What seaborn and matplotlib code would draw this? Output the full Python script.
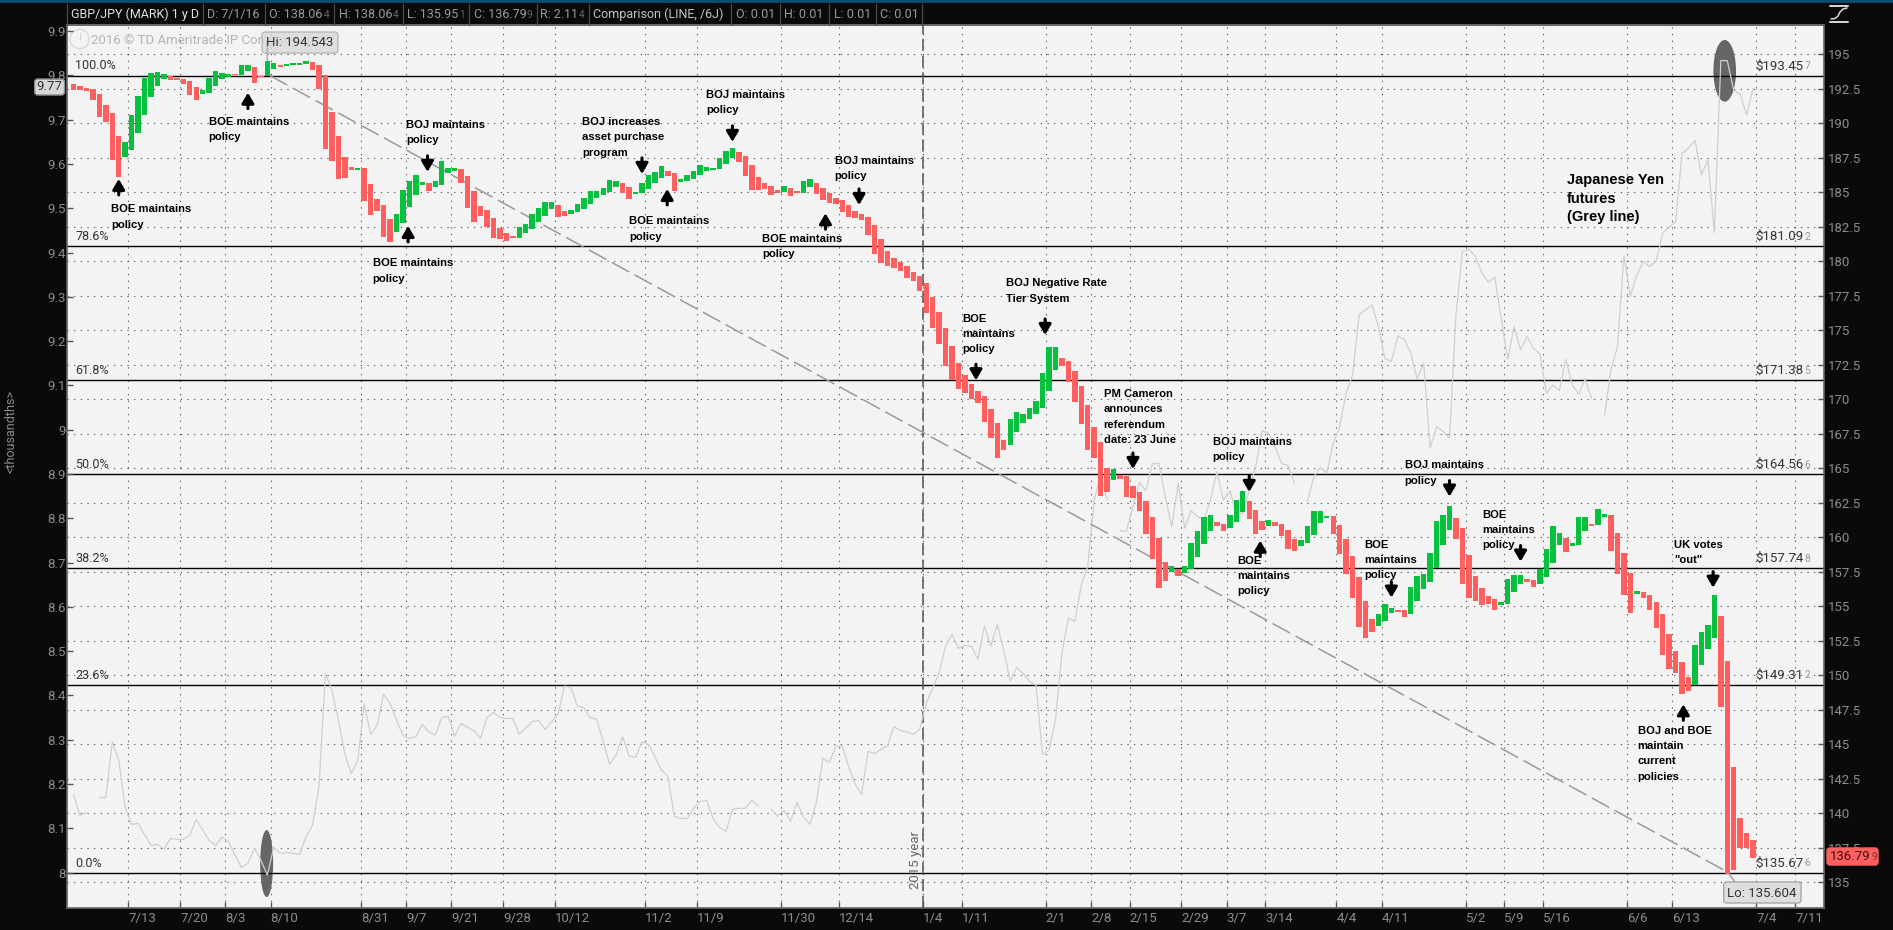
import numpy as np
import pandas as pd
import matplotlib
matplotlib.use("Agg")
import matplotlib.pyplot as plt
import seaborn as sns
from matplotlib.lines import Line2D
from matplotlib.patches import Ellipse, FancyBboxPatch, Rectangle
from matplotlib.transforms import IdentityTransform

W, H = 1893, 930
BG = "#0a0a0a"
PANEL = "#f3f3f3"
AXIS_TXT = "#8c8c8c"
RED = "#ff5f5f"
GREEN = "#05c13e"

# top / bottom of each daily bar, GBP/JPY
bar_tops = [
    192.83, 192.71, 192.59, 192.49, 192.13, 191.33, 190.75, 189.08, 188.67, 190.61,
    191.98, 193.29, 193.65, 193.72, 193.58, 193.43, 193.29, 193.22, 193.07, 192.64,
    192.42, 193.29, 193.80, 193.65, 193.58, 193.58, 194.23, 194.23, 194.08, 193.43,
    194.54, 194.37, 194.21, 194.30, 194.37, 194.40, 194.50, 194.45, 194.23, 193.48,
    190.82, 189.08, 187.56, 186.84, 186.74, 186.76, 185.61, 184.52, 184.08, 183.07,
    183.43, 185.17, 185.82, 186.26, 185.75, 185.68, 185.82, 187.27, 186.76, 186.76,
    186.69, 186.19, 185.10, 184.01, 183.72, 183.14, 182.42, 182.06, 181.84, 182.49,
    182.71, 183.43, 183.87, 184.30, 184.30, 184.08, 183.65, 183.72, 184.16, 184.59,
    185.10, 185.10, 185.32, 185.90, 185.82, 185.68, 185.39, 185.03, 185.68, 186.26,
    186.48, 186.91, 186.55, 186.40, 185.97, 186.26, 186.55, 186.98, 186.84, 186.76,
    187.49, 188.00, 188.22, 187.93, 187.64, 186.98, 186.11, 185.68, 185.46, 185.17,
    185.46, 185.32, 185.10, 185.82, 185.97, 185.68, 185.32, 184.95, 184.59, 184.45,
    184.08, 183.65, 183.43, 183.22, 182.64, 181.62, 180.75, 180.24, 179.95, 179.66,
    179.23, 178.94, 178.43, 177.42, 176.33, 175.17, 173.87, 172.63, 171.77, 171.11,
    170.61, 170.24, 169.30, 168.29, 167.05, 168.58, 169.08, 168.94, 169.37, 169.88,
    171.91, 173.79, 173.79, 173.00, 172.78, 172.06, 170.97, 169.59, 168.00, 166.89,
    165.03, 164.95, 164.52, 164.45, 163.72, 163.29, 162.63, 161.48, 159.95, 158.21,
    157.92, 157.71, 157.92, 159.59, 160.46, 161.48, 161.62, 161.11, 160.97, 161.62,
    162.71, 163.36, 162.63, 161.98, 161.19, 161.26, 161.11, 160.97, 160.53, 159.88,
    159.81, 160.82, 161.91, 161.91, 161.55, 161.55, 160.90, 159.88, 158.65, 157.13,
    155.39, 154.08, 154.45, 155.17, 154.88, 154.74, 154.74, 156.40, 157.20, 157.34,
    158.87, 161.19, 161.62, 162.27, 161.40, 160.68, 158.72, 157.20, 156.33, 155.75,
    155.53, 155.32, 156.98, 157.27, 157.27, 156.98, 156.91, 157.71, 159.16, 160.82,
    160.32, 159.95, 159.59, 161.48, 161.48, 160.97, 162.05, 161.69, 161.62, 160.32,
    158.87, 157.42, 156.11, 156.04, 155.82, 155.32, 154.45, 152.99, 151.76, 150.96,
    149.87, 152.19, 153.14, 153.64, 155.82, 154.30, 151.03, 143.35, 139.66, 138.57, 138.06,
]
bar_bottoms = [
    192.42, 192.42, 192.35, 191.69, 190.46, 190.10, 187.35, 186.11, 187.56, 188.07,
    189.30, 190.61, 191.91, 192.71, 193.22, 193.14, 193.14, 192.85, 192.06, 191.69,
    192.13, 192.20, 192.71, 193.22, 193.36, 193.48, 193.48, 193.80, 192.93, 193.36,
    193.43, 193.94, 194.06, 194.16, 194.23, 194.25, 194.28, 193.87, 192.49, 188.14,
    187.27, 185.97, 186.04, 186.62, 186.62, 184.37, 183.36, 183.65, 181.77, 181.40,
    182.13, 182.78, 183.94, 184.81, 185.53, 185.10, 185.39, 185.53, 186.40, 186.55,
    185.68, 183.87, 182.85, 183.29, 182.49, 181.69, 181.62, 181.48, 181.69, 181.69,
    182.06, 182.35, 182.85, 183.29, 183.79, 183.22, 183.29, 183.43, 183.58, 183.79,
    184.16, 184.59, 184.81, 185.03, 185.39, 184.95, 184.52, 184.88, 184.95, 185.24,
    185.68, 186.04, 186.19, 185.10, 185.75, 185.82, 185.97, 186.26, 186.55, 186.62,
    186.69, 187.06, 187.49, 187.20, 186.19, 185.17, 185.17, 185.24, 184.81, 184.95,
    185.03, 184.74, 184.95, 184.95, 185.39, 184.88, 184.45, 184.23, 184.16, 183.58,
    183.22, 183.14, 183.00, 181.91, 180.53, 179.88, 179.66, 179.52, 179.30, 178.79,
    178.58, 177.85, 176.26, 175.17, 174.01, 172.42, 171.40, 170.75, 170.46, 170.03,
    169.74, 168.36, 167.20, 165.75, 166.33, 166.69, 167.63, 168.29, 168.58, 168.94,
    169.37, 170.61, 172.13, 172.42, 171.26, 169.81, 168.21, 166.33, 165.75, 163.00,
    163.29, 164.16, 164.23, 162.92, 162.85, 161.91, 160.24, 158.43, 156.33, 156.84,
    157.49, 157.20, 157.42, 157.71, 158.58, 159.52, 160.46, 160.82, 160.46, 160.68,
    161.11, 161.84, 161.33, 160.24, 160.53, 160.82, 160.82, 160.10, 159.16, 159.01,
    159.37, 159.59, 160.17, 161.04, 161.40, 160.24, 158.79, 157.34, 155.61, 153.53,
    152.71, 153.14, 153.58, 153.94, 154.52, 154.59, 154.23, 154.45, 155.39, 156.26,
    156.76, 157.78, 159.45, 160.53, 159.88, 156.62, 155.61, 155.39, 155.10, 155.17,
    154.74, 155.10, 155.17, 156.04, 156.62, 156.76, 156.40, 156.62, 157.13, 158.14,
    159.45, 158.94, 159.37, 159.45, 160.46, 160.82, 160.90, 161.48, 159.01, 157.34,
    155.82, 154.52, 155.90, 155.61, 154.74, 153.43, 151.47, 150.45, 150.16, 148.64,
    148.86, 149.30, 150.74, 151.90, 152.70, 147.70, 135.60, 135.89, 137.48, 137.48, 136.79,
]
bar_dirs = (
    "RRRRRRRRGG" "GGGGGRRRRR" "GGGGGRGGRR" "GGRGGGGRRR" "RRRRGRRRRR"
    "GGGGGRGGGG" "RRRRRRRRRG" "GGGGGRRGGG" "GGGGGRRGGG" "GGRRGGGGGG"
    "GGGRRRRRRR" "GRRGGRRRRR" "RRRRRRRRRR" "RRRRRRRRRR" "RRRRRGGGGG"
    "GGGRRRRRRR" "RGRRRRRRRR" "GRGGGGGRRG" "GGRRRGRRRR" "GGGGGRRRRR"
    "RRGGGRRGGG" "GGGGRRRRRR" "RGGGGRRGGG" "GRGGGRGGRR" "RRGRRRRRRR"
    "RGGGGRRRRRR"
)

# Japanese Yen futures comparison line, None where the feed has a gap
yen_line = [
    141.32, 139.85, 140.07, None, 141.15, 141.15, 145.16, 143.86, 140.43, 139.20,
    139.27, 138.43, 137.68, 137.75, 137.41, 138.18, 138.11, 138.11, 138.40, 139.56,
    138.79, 138.04, 137.68, 138.28, 137.94, 136.98, 136.08, 136.37, 137.46, 136.61,
    135.53, 137.53, 137.10, 137.17, 137.10, 137.02, 138.30, 139.15, 141.93, 150.16,
    148.93, 146.76, 144.30, 142.89, 143.81, 147.92, 145.70, 146.40, 148.64, 147.97,
    146.76, 145.65, 145.43, 145.55, 146.44, 145.91, 145.65, 146.95, 147.02, 145.60,
    146.52, 146.23, 145.99, 145.43, 146.95, 147.31, 146.95, 146.88, 146.88, 145.72,
    146.15, 146.64, 146.73, 146.08, 146.64, 147.17, 149.22, 149.13, 147.77, 147.65,
    146.93, 146.81, 145.19, 143.55, 144.22, 145.55, 144.15, 144.05, 145.19, 145.00,
    144.10, 143.14, 142.70, 139.80, 139.63, 139.63, 140.36, 140.84, 140.94, 139.63,
    138.98, 138.69, 140.29, 140.36, 140.36, 140.94, 140.55, None, 140.29, 139.80,
    140.21, 139.42, 140.79, 139.75, 139.20, 140.79, 143.98, 143.69, 144.87, 144.87,
    143.38, 142.12, 141.37, 144.49, 144.34, 144.63, 144.90, 146.28, 145.99, 145.89,
    145.72, 146.11, 147.99, 149.05, 150.21, 152.12, 152.97, 151.95, 152.17, 152.10,
    151.16, 153.55, 152.12, 153.69, 151.83, 149.56, 150.58, 150.14, 149.56, 149.27,
    144.27, 144.58, 146.76, 151.59, 154.15, 153.91, 156.55, 157.88, 162.71, 164.52,
    162.71, None, 160.46, 160.46, 162.22, 163.96, 163.38, 165.32, 165.36, 162.95,
    160.77, 163.91, 160.65, 161.93, 161.50, 161.26, 162.71, 164.76, 162.71, 163.38,
    161.74, 161.74, 163.43, 165.12, 167.73, 167.54, 166.57, 165.36, 165.20, 163.91,
    None, 162.59, 164.40, 165.07, 164.64, 166.81, 168.02, 170.44, 171.77, 176.11,
    176.48, 176.84, 175.27, 172.97, 172.73, 174.59, 174.35, 173.34, 171.50, 172.61,
    166.45, 168.02, 167.66, 167.18, 176.11, 180.70, 180.87, 180.34, 179.18, 178.48,
    178.84, 175.87, 172.90, 175.27, 173.58, 174.54, 173.70, 173.29, 170.44, 171.04,
    170.63, 172.90, 171.04, 170.36, 171.48, 170.07, None, 168.87, 172.13, 173.82,
    180.39, 177.49, 179.01, 179.98, 179.62, 180.03, 182.03, 182.47, 182.88, 187.83,
    188.19, 188.75, 186.26, 187.35, 182.08, 194.54, 194.54, 192.37, 192.13, 190.61,
    192.54,
]

date_labels = ["7/13", "7/20", "8/3", "8/10", "8/31", "9/7", "9/21", "9/28", "10/12", "11/2",
               "11/9", "11/30", "12/14", "1/4", "1/11", "2/1", "2/8", "2/15", "2/29", "3/7",
               "3/14", "4/4", "4/11", "5/2", "5/9", "5/16", "6/6", "6/13", "7/4", "7/11"]
date_bars = [8.5, 16.5, 23.5, 30.5, 44.5, 51.5, 58.5, 66.5, 74.5, 88.5,
             96.5, 109.5, 118.5, 131.5, 137.5, 150.5, 157.5, 163.5, 171.5, 178.5,
             184.5, 195.5, 202.5, 215.5, 221.5, 227.5, 240.5, 247.5, 260.5, 266.5]

price_ticks = [195 - 2.5 * k for k in range(25)]
thousandth_ticks = [9.9, 9.8, 9.7, 9.6, 9.5, 9.4, 9.3, 9.2, 9.1, 9, 8.9, 8.8, 8.7, 8.6, 8.5,
                    8.4, 8.3, 8.2, 8.1, 8]

fib_pct = ["100.0%", "78.6%", "61.8%", "50.0%", "38.2%", "23.6%", "0.0%"]
fib_prices = [193.457, 181.092, 171.385, 164.566, 157.748, 149.312, 135.676]

# arrows: bar number, tip price, direction
arrow_bars = [7, 27, 51.8, 54.8, 88, 91.9, 102, 116.4, 121.6, 150.4, 139.7, 164, 182, 183.7,
              204, 213, 224, 253.8, 249.2]
arrow_tips = [185.97, 192.22, 182.56, 186.48, 186.33, 185.24, 188.65, 183.48, 184.08, 174.66,
              171.38, 164.95, 163.29, 159.76, 155.63, 162.95, 158.24, 156.35, 147.90]
arrow_dirs = "UUUDDUDUDDDDDUDDDDU"

# note text, left edge px, first line centre px
notes = [
    ("BOE maintains\npolicy", 111.4, 210),
    ("BOE maintains\npolicy", 208.6, 122.3),
    ("BOJ maintains\npolicy", 406, 125.3),
    ("BOE maintains\npolicy", 372.7, 264),
    ("BOJ increases\nasset purchase\nprogram", 582.4, 122.3),
    ("BOJ maintains\npolicy", 706.5, 95),
    ("BOE maintains\npolicy", 629.4, 222),
    ("BOE maintains\npolicy", 762.4, 239),
    ("BOJ maintains\npolicy", 834.7, 161),
    ("BOJ Negative Rate\nTier System", 1005.7, 284),
    ("BOE\nmaintains\npolicy", 962.4, 319),
    ("PM Cameron\nannounces\nreferendum\ndate: 23 June", 1103.7, 394.3),
    ("BOJ maintains\npolicy", 1212.7, 442.3),
    ("BOE\nmaintains\npolicy", 1237.6, 561),
    ("BOJ maintains\npolicy", 1404.7, 466),
    ("BOE\nmaintains\npolicy", 1364.4, 545),
    ("BOE\nmaintains\npolicy", 1482.5, 515),
    ("UK votes\n\"out\"", 1674, 545),
    ("BOJ and BOE\nmaintain\ncurrent\npolicies", 1637.7, 731),
]

# header cells: left px, text, small last digit, colour
header_cells = [
    (71.4, "GBP/JPY (MARK) 1 y D", "", "#e0e0e0"),
    (207.3, "D: 7/1/16", "", "#9a9a9a"),
    (269.4, "O: 138.06", "4", "#9a9a9a"),
    (338.8, "H: 138.06", "4", "#9a9a9a"),
    (407.3, "L: 135.95", "1", "#9a9a9a"),
    (473.5, "C: 136.79", "9", "#9a9a9a"),
    (540.4, "R: 2.11", "4", "#9a9a9a"),
    (593, "Comparison (LINE, /6J)", "", "#c4c4c4"),
    (735.5, "O: 0.01", "", "#9a9a9a"),
    (784.5, "H: 0.01", "", "#9a9a9a"),
    (833.5, "L: 0.01", "", "#9a9a9a"),
    (879.6, "C: 0.01", "", "#9a9a9a"),
]
header_seps = [67.3, 203.3, 265.3, 334.3, 403.3, 469.4, 537, 589.4, 731.4, 780.4, 829.4, 875.5, 922.4]

sns.set_theme(style="white")
plt.rcParams["font.family"] = ["Roboto", "DejaVu Sans"]

fig = plt.figure(figsize=(W / 100, H / 100), dpi=100, facecolor=BG)
ax = fig.add_axes([67.3 / W, 1 - 908 / H, (1824 - 67.3) / W, (908 - 25) / H], facecolor=PANEL)


def label(px, py, s, **kw):
    kw.setdefault("clip_on", False)
    return ax.text(px / W, 1 - py / H, s, transform=fig.transFigure, **kw)


def tail_digit(txt, digit, color="#999999", size=7.5):
    ax.annotate(digit, xy=(1, 0), xycoords=txt, xytext=(0.5, 1), textcoords="offset points",
                ha="left", va="bottom", fontsize=size, color=color, zorder=txt.get_zorder())


def px_box(x0, y0, x1, y1, fc, ec, zorder=8, alpha=1.0):
    box = FancyBboxPatch((x0 + 3, H - y1 + 3), x1 - x0 - 6, y1 - y0 - 6,
                         boxstyle="round,pad=3,rounding_size=3", fc=fc, ec=ec, lw=1,
                         transform=IdentityTransform(), zorder=zorder, alpha=alpha, clip_on=False)
    ax.add_patch(box)


df = pd.DataFrame({"bar": np.arange(len(bar_tops)), "top": bar_tops, "bottom": bar_bottoms,
                   "dir": list(bar_dirs)})
df["size"] = df["top"] - df["bottom"]
for d, col in (("R", RED), ("G", GREEN)):
    part = df[df["dir"] == d]
    sns.barplot(data=part, x="bar", y="size", bottom=part["bottom"].to_numpy(), native_scale=True,
                color=col, saturation=1, width=0.84, errorbar=None, linewidth=0, zorder=5, ax=ax)

# comparison line with its gaps kept open
line_df = pd.DataFrame({"bar": np.arange(len(yen_line)), "price": pd.to_numeric(pd.Series(yen_line))})
line_df["seg"] = line_df["price"].isna().cumsum()
line_df = line_df.dropna()
sns.lineplot(data=line_df, x="bar", y="price", units="seg", estimator=None, color="#cfcfcf",
             lw=0.9, zorder=3, ax=ax)

ax.add_patch(Ellipse((29.9, 136.36), 2.0, 4.85, fc="#666666", ec="none", zorder=2))
ax.add_patch(Ellipse((255.6, 193.8), 3.5, 4.47, fc="#666666", ec="none", zorder=2))

for pr in fib_prices:
    ax.axhline(pr, color="black", lw=1.0, zorder=2.5)

# retracement trend line and year divider
ax.plot([30.4, 256.3], [193.457, 135.676], color="#9a9a9a", lw=1.1, dashes=(13, 4), zorder=4)
ax.axvline(131.5, color="#555555", lw=1.1, dashes=(8, 3), zorder=2.5)

ax.set_xlim(-0.96, 270.97)
ax.set_ylim(133.14, 197.12)
ax.set_xlabel("")
ax.set_ylabel("")
ax.set_xticks(date_bars, date_labels, ha="left")
ax.set_yticks(price_ticks, [f"{v:g}" for v in price_ticks])
ax.set_axisbelow(True)
ax.grid(True, color="#444444", lw=0.8, linestyle=(0, (1, 5)))
for sp in ax.spines.values():
    sp.set_color("#666666")
    sp.set_linewidth(1.2)

left = ax.twinx()
left.patch.set_visible(False)
left.set_ylim(7.92, 9.914)
left.set_yticks(thousandth_ticks, [f"{v:g}" for v in thousandth_ticks])
left.yaxis.tick_left()
left.tick_params(axis="y", direction="in", length=4, width=1, color="#555555", labelcolor=AXIS_TXT,
                 labelsize=9.5, pad=1)
left.grid(False)
for sp in left.spines.values():
    sp.set_visible(False)

# twinx flips the host axis to the left, put the price scale back
ax.yaxis.tick_right()
ax.tick_params(axis="x", direction="in", length=4, width=1, color="#555555", labelcolor=AXIS_TXT,
               labelsize=9.5, pad=3, bottom=True)
ax.tick_params(axis="y", direction="in", length=4, width=1, color="#555555", labelcolor=AXIS_TXT,
               labelsize=9.5, pad=3)
label(11, 431, "<thousandths>", color=AXIS_TXT, fontsize=9, rotation=90, ha="center", va="center")

# event arrows
for b, tip, d in zip(arrow_bars, arrow_tips, arrow_dirs):
    tail = tip - 1.16 if d == "U" else tip + 1.16
    ax.annotate("", xy=(b, tip), xytext=(b, tail), zorder=7,
                arrowprops=dict(arrowstyle="-|>,head_width=0.38,head_length=0.65", color="black",
                                lw=2.2, shrinkA=0, shrinkB=0, mutation_scale=9.5))

note_font = dict(family="Liberation Sans", fontweight="bold", color="black", fontsize=8.1,
                 va="top", ha="left", linespacing=1.67, zorder=7)
for s, px, py in notes:
    label(px, py - 5.5, s, **note_font)
label(1567, 173, "Japanese Yen\nfutures\n(Grey line)", family="Liberation Sans", fontweight="bold",
      color="black", fontsize=10.5, va="top", ha="left", linespacing=1.42, zorder=7)

# fib labels
for pct, pr in zip(fib_pct, fib_prices):
    py = 54.3 + (195 - pr) * 13.8 - 9.6
    label(75.5, py, pct, color="#333333", fontsize=9, va="center", ha="left", zorder=6)
    s = f"{pr:.3f}"
    t = label(1755.4, py, "$" + s[:-1], color="#333333", fontsize=9.5, va="center", ha="left", zorder=6)
    tail_digit(t, s[-1])

label(916, 860, "2015 year", color="#666666", fontsize=9.5, rotation=90, ha="center",
      va="center", zorder=4)

# watermark and hi/lo callouts
label(90.6, 40.7, "2016 © TD Ameritrade IP Company, Inc.", color="#b4b4b4", fontsize=9.5,
      va="center", ha="left", zorder=1)
label(79.6, 39, "!", color="#d4d4d4", fontsize=9, va="center", ha="center", zorder=1,
      bbox=dict(boxstyle="circle,pad=0.25", fc="none", ec="#d8d8d8", lw=1))
px_box(262, 32, 338, 53, "#dadada", "#b0b0b0", alpha=0.82)
label(300, 43, "Hi: 194.543", color="#333333", fontsize=9.5, va="center", ha="center", zorder=9)
ax.annotate("", xy=(30.0, 194.54), xytext=(0, 14), textcoords="offset points", zorder=8,
            arrowprops=dict(arrowstyle="-", color="#b0b0b0", lw=1.2, shrinkA=0, shrinkB=0))
px_box(1723.7, 882, 1801, 903, "#dedede", "#a8a8a8")
label(1762, 893, "Lo: 135.604", color="#333333", fontsize=9.5, va="center", ha="center", zorder=9)
ax.annotate("", xy=(256.3, 135.6), xytext=(5, -7), textcoords="offset points", zorder=7,
            arrowprops=dict(arrowstyle="-", color="#a8a8a8", lw=1.2, shrinkA=0, shrinkB=0))

# price flags on the two axes
px_box(34.7, 79, 64.5, 95, "#d8d8d8", "#8c8c8c")
label(49.6, 87, "9.77", color="#333333", fontsize=9.5, va="center", ha="center", zorder=9)
px_box(1827, 848, 1878, 865, RED, RED)
t = label(1830, 856.5, "136.79", color="#3a1010", fontsize=9.5, va="center", ha="left", zorder=9)
tail_digit(t, "9", color="#8a2a2a")

# header band
fig.add_artist(Rectangle((0, 1 - 3.4 / H), 1, 3.4 / H, transform=fig.transFigure, fc="#0c4a6c", ec="none"))
fig.add_artist(Line2D([67.3 / W, 1824 / W], [1 - 25 / H, 1 - 25 / H], color="#666666", lw=1.2))
for px in header_seps:
    fig.add_artist(Line2D([px / W, px / W], [1 - 25 / H, 1 - 4 / H], color="#4a4a4a", lw=0.9))
for px, s, digit, col in header_cells:
    t = fig.text(px / W, 1 - 14.7 / H, s, color=col, fontsize=9.0, va="center", ha="left")
    if digit:
        ax.annotate(digit, xy=(1, 0), xycoords=t, xytext=(0.5, 1), textcoords="offset points",
                    ha="left", va="bottom", fontsize=7.2, color="#666666", annotation_clip=False)

# scale icon in the top right corner
for py in (6, 22):
    fig.add_artist(Line2D([1830 / W, 1848 / W], [1 - py / H, 1 - py / H], color="#d8d8d8", lw=1.4))
icon_x = np.array([1831, 1835, 1838, 1840, 1843, 1847]) / W
icon_y = 1 - np.array([19, 18.5, 16, 12, 9, 8]) / H
fig.add_artist(Line2D(icon_x, icon_y, color="#d8d8d8", lw=1.1))

fig.savefig("out.png", dpi=100, facecolor=BG)
